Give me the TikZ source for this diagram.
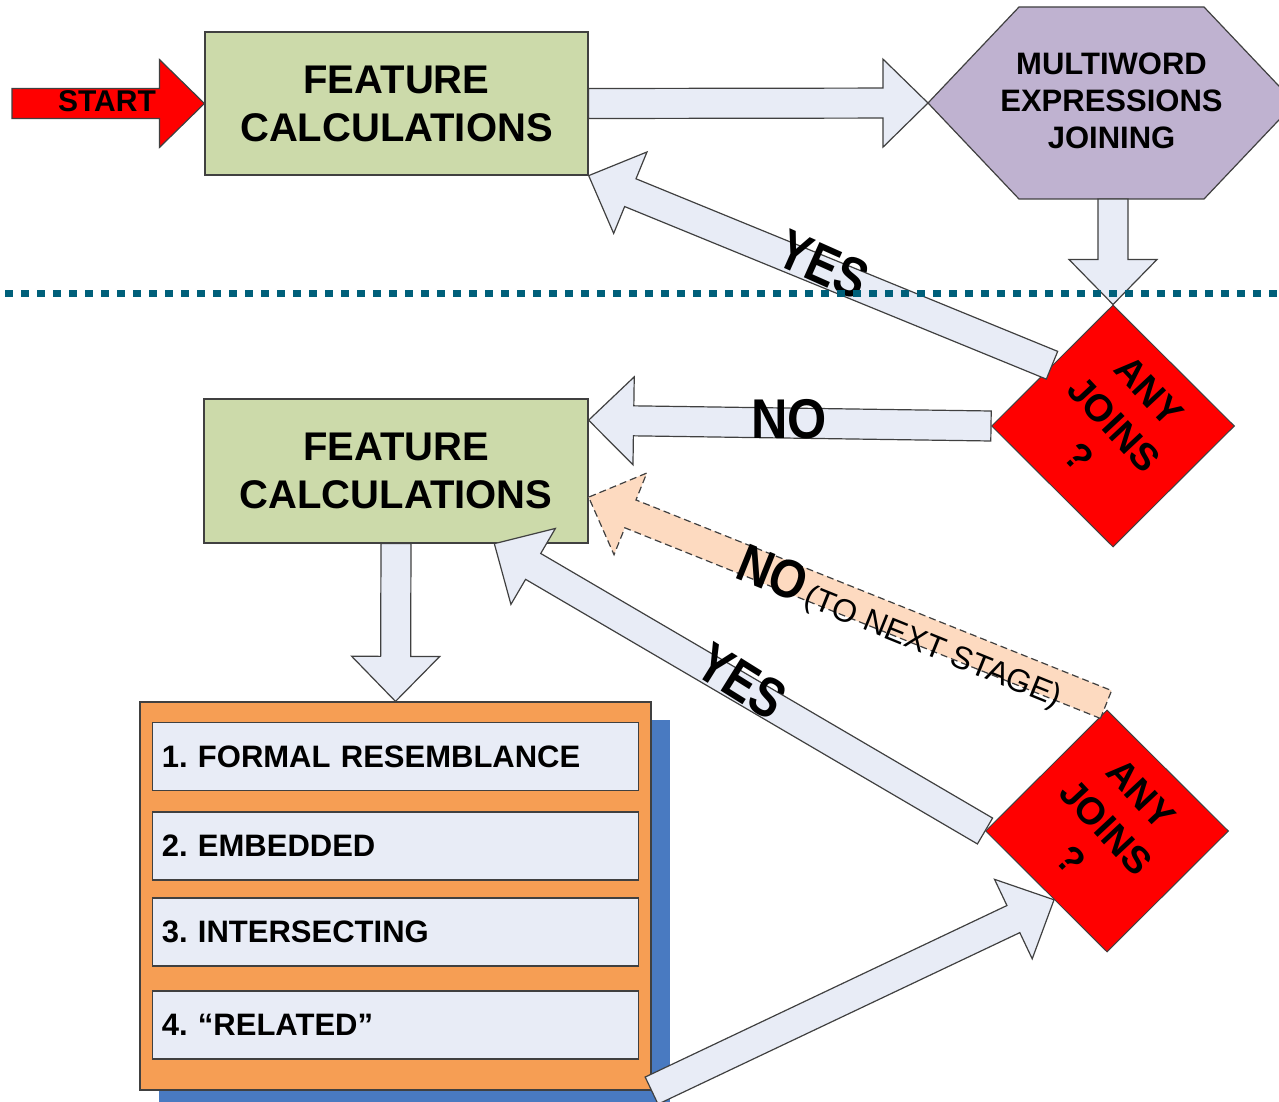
\documentclass[tikz,border=0pt]{standalone}
\usepackage{fontspec}
\setmainfont{Liberation Sans}
\usetikzlibrary{calc,shapes.geometric,shadows}
\definecolor{boxgreen}{RGB}{204,218,170}
\definecolor{hexpurple}{RGB}{191,178,208}
\definecolor{arrfill}{RGB}{232,236,246}
\definecolor{peachfill}{RGB}{253,218,192}
\definecolor{stackorange}{RGB}{246,158,84}
\definecolor{shadowblue}{RGB}{73,122,193}
\definecolor{edgegray}{RGB}{64,64,64}
\definecolor{dotteal}{RGB}{0,96,122}
\frenchspacing
% block arrow from #2 (tail centre) to #3 (tip)
\newcommand\blockarrow[3][]{%
  \draw[barrow,#1] let \p1=($(#3)-(#2)$), \n1={atan2(\y1,\x1)}, \n2={veclen(\x1,\y1)} in
    [shift={(#2)}, rotate=\n1]
    (0,-15) -- ({\n2-45},-15) -- ({\n2-45},-44) -- (\n2,0) -- ({\n2-45},44) -- ({\n2-45},15) -- (0,15) -- cycle;}
\begin{document}
\begin{tikzpicture}[x=1pt,y=-1pt,
  gbox/.style={draw=edgegray, line width=1.2pt, fill=boxgreen, minimum width=383pt, minimum height=143pt,
    inner sep=0pt, align=center, font=\fontsize{40}{48}\selectfont\bfseries},
  dia/.style={diamond, draw=edgegray, line width=1pt, fill=red, minimum width=243pt, minimum height=242pt, inner sep=0pt},
  diatext/.style={rotate=-47, align=center, font=\fontsize{38}{48}\selectfont\bfseries, inner sep=0pt},
  barrow/.style={draw=edgegray, line width=1.2pt, fill=arrfill, line join=miter},
  redarrow/.style={fill=red},
  peacharrow/.style={fill=peachfill, dash pattern=on 7pt off 4pt},
  bigword/.style={font=\fontsize{56}{56}\selectfont\bfseries, inner sep=0pt},
  itembox/.style={draw=edgegray, line width=1.2pt, fill=arrfill, text width=468pt, inner xsep=9pt, inner ysep=0pt,
    minimum height=68pt, align=left, font=\fontsize{31}{37}\selectfont\bfseries},
  cont/.style={draw=edgegray, line width=1.2pt, fill=stackorange, minimum width=511pt, minimum height=388pt, inner sep=0pt,
    drop shadow={shadow xshift=19pt, shadow yshift=-18pt, fill=shadowblue, opacity=1}},
  dotline/.style={draw=dotteal, line width=7.5pt, dash pattern=on 7.5pt off 8.5pt}
]
\useasboundingbox (0,0) rectangle (1279,1102);
\clip (0,0) rectangle (1279,1102);

% stack of criteria
\node[cont] (stack) at (395.5,896) {};
\node[itembox] (it1) at (395.8,756.5) {1. FORMAL RESEMBLANCE};
\node[itembox] (it2) at (395.8,846) {2. EMBEDDED};
\node[itembox] (it3) at (395.8,932) {3. INTERSECTING};
\node[itembox] (it4) at (395.8,1025) {4. “RELATED”};

% green boxes
\node[gbox] (box1) at (396.5,103.5) {FEATURE\\CALCULATIONS};
\node[gbox, minimum width=384pt, minimum height=144pt] (box2) at (396,471) {FEATURE\\CALCULATIONS};

% hexagon
\coordinate (hexW) at (928,103);
\coordinate (hexNW) at (1019,7);
\coordinate (hexNE) at (1204,7);
\coordinate (hexE) at (1295,103);
\coordinate (hexSE) at (1204,199);
\coordinate (hexSW) at (1019,199);
\coordinate (hexS) at (1113,199);
\draw[draw=edgegray, line width=1.2pt, fill=hexpurple] (hexW) -- (hexNW) -- (hexNE) -- (hexE) -- (hexSE) -- (hexSW) -- cycle;
\node[align=center, font=\fontsize{31}{37}\selectfont\bfseries] (hexa) at (1111.5,101) {MULTIWORD\\EXPRESSIONS\\JOINING};

% decision diamonds
\node[dia] (dia1) at (1113,426) {};
\node[diatext] (dia1t) at (1114,424) {ANY\\JOINS\\?};
\node[dia] (dia2) at (1107,831) {};
\node[diatext] (dia2t) at (1106,827) {ANY\\JOINS\\?};

% connector end points
\coordinate (startTail) at (12,103.5);
\coordinate (y1tail) at ($(dia1.north)!0.5!(dia1.west)$);
\coordinate (n1tip) at ($(box2.north east)!0.15!(box2.south east)$);
\coordinate (ptail) at ($(dia2.north)+(-1,-5)$);
\coordinate (ptip) at ($(box2.north east)!0.68!(box2.south east)$);
\coordinate (y2tip) at ($(box2.south west)!0.755!(box2.south east)$);
\coordinate (btip) at ($(dia2.west)!0.566!(dia2.south)$);

% block arrows
\blockarrow[redarrow]{startTail}{box1.west}
\node[font=\fontsize{30}{30}\selectfont\bfseries, inner sep=0pt] (startlbl) at (107,101) {START};
\blockarrow{box1.east}{hexW}
\blockarrow{hexS}{dia1.north}
\blockarrow{y1tail}{box1.south east}
\blockarrow{dia1.west}{n1tip}
\blockarrow[peacharrow]{ptail}{ptip}
\blockarrow{dia2.west}{y2tip}
\blockarrow{box2.south}{stack.north}
\blockarrow{stack.south east}{btip}

% labels
\node[bigword, rotate=-24] (yes1lbl) at (823,265) {\scalebox{0.82}[1]{YES}};
\node[bigword] (no1lbl) at (789,419) {\scalebox{0.9}[1]{NO}};
\node[bigword, font=\fontsize{54}{54}\selectfont\bfseries, rotate=-22, anchor=base west] (no2lbl) at (733,577)
  {\scalebox{0.87}[1]{NO}\kern4pt{\fontsize{32}{32}\selectfont\mdseries(TO NEXT STAGE)}};
\node[bigword, rotate=-32] (yes2lbl) at (742,681) {\scalebox{0.82}[1]{YES}};

% separator
\draw[dotline] (5,293.5) -- (1279,293.5);
\end{tikzpicture}
\end{document}
